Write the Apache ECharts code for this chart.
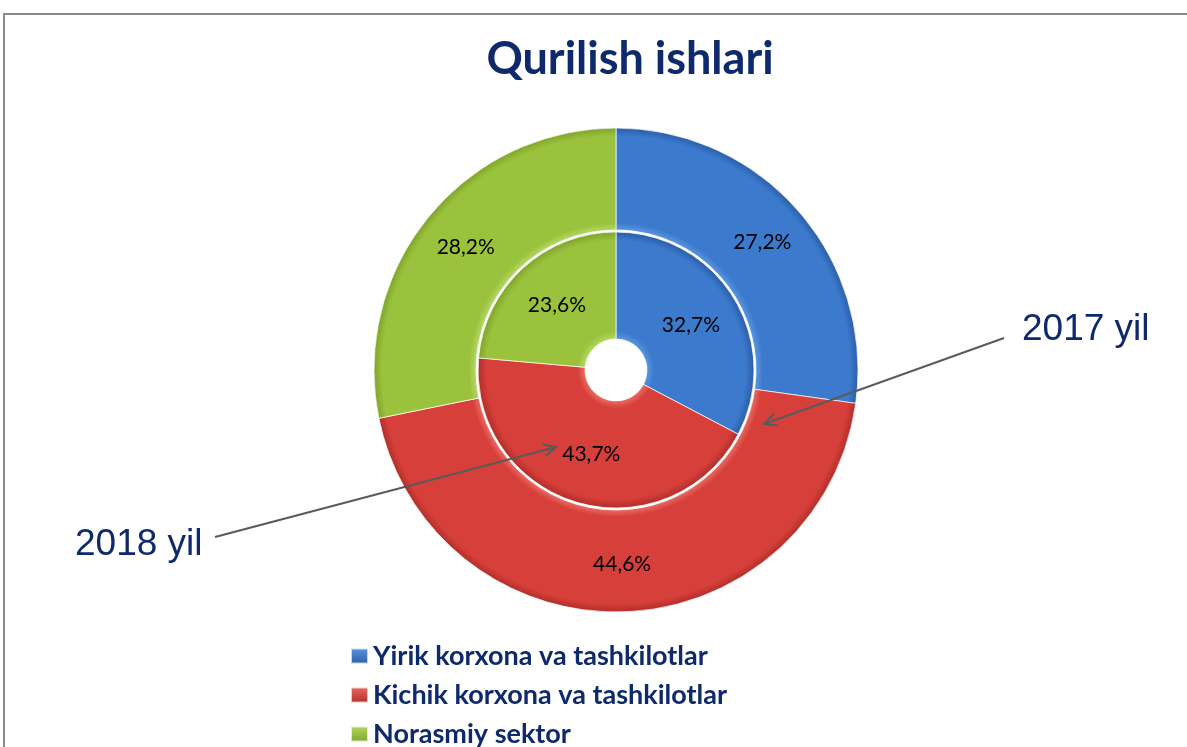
<!DOCTYPE html>
<html>
<head>
<meta charset="utf-8">
<title>Qurilish ishlari</title>
<script src="https://cdn.jsdelivr.net/npm/echarts@6/dist/echarts.min.js"></script>
<style>
  html, body { margin: 0; padding: 0; background: #fff; }
  #chart { width: 1187px; height: 747px; }
</style>
</head>
<body>
<div id="chart"></div>
<script>
// ma'lumotlar
const categories = ['Yirik korxona va tashkilotlar', 'Kichik korxona va tashkilotlar', 'Norasmiy sektor'];
const values2017 = [27.2, 44.6, 28.2];
const values2018 = [32.7, 43.7, 23.6];
const yearLabels = ['2017 yil', '2018 yil'];

const CX = 616;
const CY = 370;
const navy = '#0e2a6c';

// ranglar: asosiy, yorug', to'q
const shades = [
  { base: '#3c7acd', light: '#5a95e0', dark: '#2b5ea8' },
  { base: '#d63f3a', light: '#ea6a62', dark: '#b22e2a' },
  { base: '#9bc23c', light: '#b4d866', dark: '#7fa52b' }
];

const ringFill = (s, r0, r1) => {
  const a = r0 / r1;
  const w = 1 - a;
  return {
    type: 'radial', x: CX, y: CY, r: r1, global: true,
    colorStops: [
      { offset: 0, color: s.light },
      { offset: a, color: s.light },
      { offset: a + w * 0.07, color: s.base },
      { offset: 1 - w * 0.08, color: s.base },
      { offset: 1, color: s.dark }
    ]
  };
};

const fmt = v => v.toFixed(1).replace('.', ',') + '%';

const makeRing = (name, values, r0, r1) => ({
  name: name,
  type: 'pie',
  center: [CX, CY],
  radius: [r0, r1],
  startAngle: 90,
  clockwise: true,
  avoidLabelOverlap: false,
  emphasis: { disabled: true },
  label: {
    show: true,
    position: 'inside',
    color: '#000',
    fontFamily: 'Lato',
    fontSize: 21,
    formatter: p => fmt(p.value)
  },
  labelLine: { show: false },
  itemStyle: {
    borderColor: 'rgba(255,255,255,0.7)',
    borderWidth: 1
  },
  data: categories.map((c, i) => ({
    name: c,
    value: values[i],
    itemStyle: { color: ringFill(shades[i], r0, r1) }
  }))
});

// strelka chizish
const arrow = (x1, y1, x2, y2) => {
  const ang = Math.atan2(y2 - y1, x2 - x1);
  const len = 14;
  const spread = 0.45;
  const stroke = { stroke: '#5a5a5a', lineWidth: 2 };
  return [
    { type: 'line', shape: { x1, y1, x2, y2 }, style: stroke, z: 10 },
    {
      type: 'polyline',
      shape: {
        points: [
          [x2 - len * Math.cos(ang - spread), y2 - len * Math.sin(ang - spread)],
          [x2, y2],
          [x2 - len * Math.cos(ang + spread), y2 - len * Math.sin(ang + spread)]
        ]
      },
      style: stroke,
      z: 10
    }
  ];
};

// har bir qator uchun alohida legend
const legends = categories.map((c, i) => ({
  orient: 'vertical',
  left: 345,
  top: 637 + i * 39,
  itemWidth: 17,
  itemHeight: 15,
  itemGap: 0,
  icon: 'rect',
  selectedMode: false,
  textStyle: {
    color: navy,
    fontFamily: 'Lato',
    fontWeight: 'bold',
    fontSize: 27,
    lineHeight: 28
  },
  data: [{
    name: c,
    itemStyle: {
      color: {
        type: 'linear', x: 0, y: 0, x2: 0, y2: 1,
        colorStops: [
          { offset: 0, color: shades[i].light },
          { offset: 1, color: shades[i].dark }
        ]
      }
    }
  }]
}));

const chart = echarts.init(document.getElementById('chart'));

chart.setOption({
  backgroundColor: '#fff',
  animation: false,
  legend: legends,
  graphic: [
    {
      type: 'rect',
      shape: { x: 4, y: 14, width: 1300, height: 900 },
      style: { fill: 'none', stroke: '#8a8a8a', lineWidth: 2 },
      silent: true
    },
    {
      type: 'text',
      x: 630, y: 59,
      style: {
        text: 'Qurilish ishlari',
        fill: navy,
        font: 'bold 45px Lato',
        textAlign: 'center',
        textVerticalAlign: 'middle'
      }
    },
    {
      type: 'text',
      x: 1022, y: 330,
      style: {
        text: yearLabels[0],
        fill: navy,
        font: '37px "Liberation Sans", Arial',
        textAlign: 'left',
        textVerticalAlign: 'middle'
      }
    },
    {
      type: 'text',
      x: 75, y: 545,
      style: {
        text: yearLabels[1],
        fill: navy,
        font: '37px "Liberation Sans", Arial',
        textAlign: 'left',
        textVerticalAlign: 'middle'
      }
    },
    ...arrow(1004, 338, 764, 424),
    ...arrow(215, 537, 556, 447)
  ],
  series: [
    makeRing('2018', values2018, 31, 138),
    makeRing('2017', values2017, 140, 242)
  ]
});

window.addEventListener('resize', () => chart.resize());
</script>
</body>
</html>
